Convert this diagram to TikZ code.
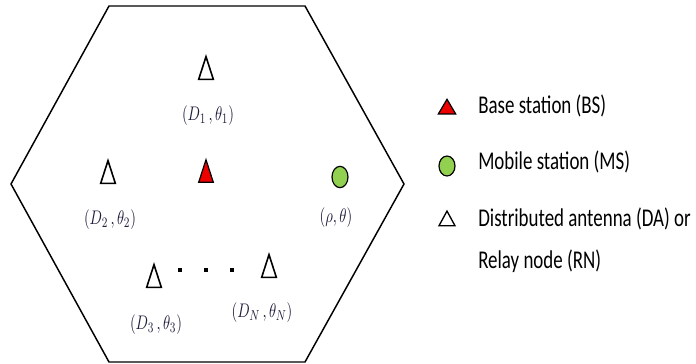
\documentclass[tikz,border=0pt]{standalone}
\usepackage{amsmath}
\usepackage{graphicx}
\usepackage{fontspec}
\setmainfont{Carlito}
\usetikzlibrary{shapes.geometric}

\definecolor{bsred}{RGB}{237,0,0}
\definecolor{msgreen}{RGB}{146,208,80}
\definecolor{labelnavy}{RGB}{30,30,60}

% text in the figure is drawn a bit taller than wide
\newcommand{\tallish}[1]{\scalebox{1}[1.35]{#1}}

\tikzset{
	antenna/.style={isosceles triangle, isosceles triangle stretches, shape border rotate=90,
		minimum height=17pt, minimum width=11pt, inner sep=0pt, draw, line width=1.2pt},
	bsnode/.style={antenna, fill=bsred, line width=0.9pt},
	msnode/.style={ellipse, minimum width=12pt, minimum height=16pt, inner sep=0pt,
		draw, fill=msgreen, line width=0.9pt},
	keysize/.style={minimum height=11pt, minimum width=12pt},
	poslabel/.style={text=labelnavy, font=\fontsize{11}{13}\selectfont, inner sep=0pt},
	legendtext/.style={anchor=west, font=\fontsize{14.2}{16}\selectfont, inner sep=0pt},
	gapdot/.style={rectangle, fill, minimum size=2.5pt, inner sep=0pt}
}

\begin{document}
\begin{tikzpicture}[x=0.75pt,y=-0.75pt]
	\useasboundingbox (0,0) rectangle (696,364);
	% cell
	\draw[line width=1.1pt, line join=miter] (109,6) -- (305,6) -- (404,184) -- (305,362) -- (109,362) -- (11,184) -- cycle;

	% stations in the cell
	\node[antenna] (da1) at (206,74) {};
	\node[antenna] (da2) at (108,178) {};
	\node[antenna] (da3) at (154,282) {};
	\node[antenna] (daN) at (269,272) {};
	\node[bsnode] (bs) at (206,177) {};
	\node[msnode] (ms) at (340,177) {};

	\node[poslabel] (l1) at (208,116) {\tallish{$(D_1\,,\theta_1)$}};
	\node[poslabel] (l2) at (110,220) {\tallish{$(D_2\,,\theta_2)$}};
	\node[poslabel] (l3) at (156,325) {\tallish{$(D_3\,,\theta_3)$}};
	\node[poslabel] (lN) at (262,313) {\tallish{$(D_N\,,\theta_N)$}};
	\node[poslabel] (lms) at (336,218) {\tallish{$(\rho,\theta)$}};

	\foreach \x in {180,206,232}
		\node[gapdot] at (\x,270) {};

	% legend
	\node[bsnode, keysize, minimum width=13pt] (keybs) at (447,109) {};
	\node[msnode, minimum height=15pt] (keyms) at (447,166) {};
	\node[antenna, keysize, line width=1pt] (keyda) at (447,221) {};
	\node[legendtext] (tbs) at (478,106) {\tallish{Base station (BS)}};
	\node[legendtext] (tms) at (478,162) {\tallish{Mobile station (MS)}};
	\node[legendtext] (tda) at (478,219) {\tallish{Distributed antenna (DA) or}};
	\node[legendtext] (trn) at (478,261) {\tallish{Relay node (RN)}};
\end{tikzpicture}
\end{document}
